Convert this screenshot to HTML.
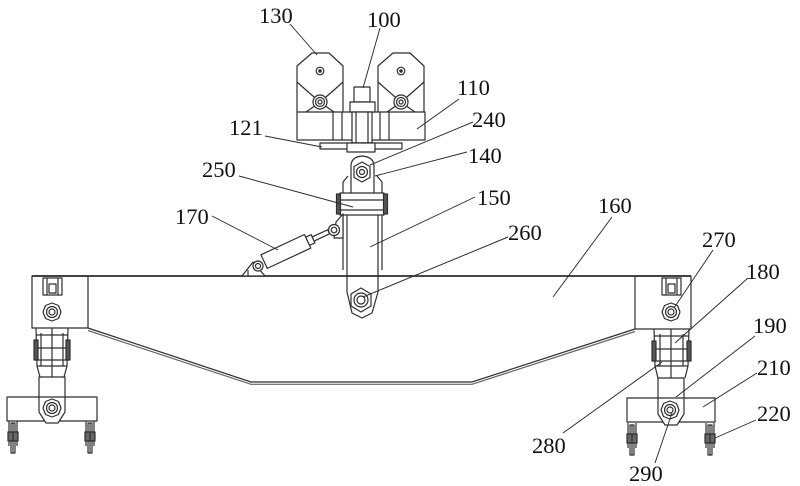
<!DOCTYPE html>
<html><head><meta charset="utf-8"><style>
html,body{margin:0;padding:0;background:#fff;}
svg{display:block;}
text{font-family:"Liberation Serif",serif;font-size:22.5px;fill:#111;}
</style></head><body>
<svg width="800" height="486" viewBox="0 0 800 486" xmlns="http://www.w3.org/2000/svg">
<g fill="none" stroke="#2e2e2e" stroke-width="1.2" stroke-linejoin="round">
<!-- Beam -->
<line x1="32" y1="276" x2="691" y2="276" stroke-width="1.8"/>
<rect x="32" y="276" width="56" height="52"/>
<rect x="635" y="276" width="56" height="53"/>
<polyline points="88,328 251,382 472,382 635,329"/>
<polyline points="88,330.5 251,384.3 472,384.3 635,331.5" stroke="#666"/>

<!-- End block details left -->
<rect x="43" y="278" width="19" height="17"/>
<line x1="47" y1="278" x2="47" y2="295"/><line x1="58" y1="278" x2="58" y2="295"/>
<rect x="49" y="284" width="7" height="9"/>
<polygon points="52,303 58.5,305.5 61,312 58.5,318.5 52,321 45.5,318.5 43,312 45.5,305.5"/>
<circle cx="52" cy="312" r="5.5"/><circle cx="52" cy="312" r="3"/>
<!-- End block details right -->
<rect x="662" y="278" width="19" height="17"/>
<line x1="666" y1="278" x2="666" y2="295"/><line x1="677" y1="278" x2="677" y2="295"/>
<rect x="668" y="284" width="7" height="9"/>
<polygon points="671,303 677.5,305.5 680,312 677.5,318.5 671,321 664.5,318.5 662,312 664.5,305.5"/>
<circle cx="671" cy="312" r="5.5"/><circle cx="671" cy="312" r="3"/>

<!-- Left leg -->
<polyline points="36,328 37,366 40,377"/><polyline points="68,328 67,366 64,377"/>
<line x1="41" y1="333" x2="41" y2="366"/><line x1="63" y1="333" x2="63" y2="366"/>
<line x1="36" y1="335" x2="68" y2="335"/><line x1="37" y1="348" x2="67" y2="348"/>
<line x1="37" y1="360" x2="67" y2="360"/><line x1="37" y1="366" x2="67" y2="366"/>
<line x1="52" y1="328" x2="52" y2="377"/>
<rect x="34" y="340" width="4" height="20" fill="#555"/><rect x="66" y="340" width="4" height="20" fill="#555"/>
<rect x="7" y="397" width="90" height="24" fill="#fff"/>
<polygon points="39,377 65,377 65,412 58,423 46,423 39,412" fill="#fff"/>
<line x1="39" y1="397" x2="65" y2="397"/>
<polygon points="52,399 58.5,401.5 61,408 58.5,414.5 52,417 45.5,414.5 43,408 45.5,401.5"/>
<circle cx="52" cy="408" r="5.5"/><circle cx="52" cy="408" r="3"/>

<!-- Right leg -->
<polyline points="654,329 655,366 658,378"/><polyline points="689,329 688,366 685,378"/>
<line x1="660" y1="334" x2="660" y2="366"/><line x1="683" y1="334" x2="683" y2="366"/>
<line x1="654" y1="336" x2="689" y2="336"/><line x1="655" y1="349" x2="688" y2="349"/>
<line x1="655" y1="361" x2="688" y2="361"/><line x1="655" y1="366" x2="688" y2="366"/>
<line x1="671" y1="329" x2="671" y2="378"/>
<rect x="652" y="341" width="4" height="20" fill="#555"/><rect x="687" y="341" width="4" height="20" fill="#555"/>
<rect x="627" y="398" width="88" height="24" fill="#fff"/>
<polygon points="658,378 684,378 684,414 677,425 665,425 658,414" fill="#fff"/>
<line x1="658" y1="398" x2="684" y2="398"/>
<polygon points="670,401 676.5,403.5 679,410 676.5,416.5 670,419 663.5,416.5 661,410 663.5,403.5"/>
<circle cx="670" cy="410" r="5.5"/><circle cx="670" cy="410" r="3"/>

<!-- Wheels -->
<g id="w">
<line x1="9" y1="421" x2="9" y2="446"/><line x1="17" y1="421" x2="17" y2="446"/>
<rect x="11" y="423" width="4" height="30"/>
<rect x="8" y="432" width="10" height="9" fill="#666"/>
<line x1="13" y1="423" x2="13" y2="453"/>
</g>
<use href="#w" x="77"/>
<use href="#w" x="619" y="2"/>
<use href="#w" x="697" y="2"/>

<!-- Trolley housings -->
<g id="h">
<polyline points="297,112 297,66 312,53 329,53 343,66 343,112"/>
<path d="M297,82 Q308,92 320,102 Q328,108 334,112"/>
<path d="M343,82 Q332,92 320,102 Q312,108 306,112"/>
<circle cx="320" cy="71" r="3.8"/><circle cx="320" cy="71" r="1.2" fill="#2e2e2e"/>
<circle cx="320" cy="102" r="7" fill="#fff"/><circle cx="320" cy="102" r="4.5"/><circle cx="320" cy="102" r="2"/>
</g>
<use href="#h" x="81"/>
<rect x="297" y="112" width="128" height="28" fill="#fff"/>
<line x1="333" y1="112" x2="333" y2="140"/><line x1="342" y1="112" x2="342" y2="140"/>
<line x1="380" y1="112" x2="380" y2="140"/><line x1="389" y1="112" x2="389" y2="140"/>
<!-- Bolt 100 -->
<rect x="354" y="87" width="16" height="15" fill="#fff"/>
<rect x="350" y="102" width="25" height="10" fill="#fff"/>
<rect x="352" y="112" width="20" height="31" fill="#fff"/>
<line x1="356" y1="112" x2="356" y2="143"/><line x1="368" y1="112" x2="368" y2="143"/>
<!-- Plate 121 -->
<rect x="320" y="143" width="82" height="6" fill="#fff"/>
<rect x="347" y="143" width="28" height="9" fill="#fff"/>

<!-- Plate 150 outer -->
<polyline points="343,270 343,182 348,176"/><polyline points="382,270 382,182 377,176"/>
<path d="M347,193 L347,292 L352,313 L362,318 L372,313 L378,292 L378,193"/>
<!-- Clevis 140 -->
<path d="M351,195 L351,166 Q351,157 362,156 Q374,157 374,166 L374,195"/>
<polygon points="362,162 370,166.5 370,177.5 362,182 354,177.5 354,166.5" fill="#fff"/>
<circle cx="362" cy="172" r="5.5"/><circle cx="362" cy="172" r="2.5"/>
<!-- Crossbar 250 -->
<rect x="340" y="193" width="44" height="22" fill="#fff"/>
<line x1="340" y1="200" x2="384" y2="200"/><line x1="340" y1="210" x2="384" y2="210"/>
<rect x="336.5" y="194" width="4" height="20" fill="#555"/><rect x="383.5" y="194" width="4" height="20" fill="#555"/>
<!-- Pin 260 -->
<polygon points="361,288 371,294 371,306 361,312 351,306 351,294"/>
<circle cx="361" cy="300" r="7"/><circle cx="361" cy="300" r="4"/>

<!-- Cylinder 170 -->
<polygon points="242,276 253,262 265,276" fill="#fff"/>
<line x1="248" y1="276" x2="248" y2="270"/>
<g transform="rotate(-25 258 265)">
<rect x="265" y="257" width="48" height="15" fill="#fff"/>
<rect x="313" y="260" width="6" height="9" fill="#fff"/>
<rect x="319" y="262.5" width="17" height="4.5" fill="#fff"/>
</g>
<circle cx="258" cy="266" r="5" fill="#fff"/><circle cx="258" cy="266" r="2.5"/>
<polygon points="336,222 343,214 343,238 334,238" fill="#fff"/>
<circle cx="334" cy="230" r="5.5" fill="#fff"/><circle cx="334" cy="230" r="2.8"/>
</g>

<!-- Leader lines -->
<g stroke="#2a2a2a" stroke-width="0.95" fill="none">
<line x1="290" y1="24" x2="317" y2="55"/>
<line x1="380" y1="28" x2="363" y2="88"/>
<line x1="459" y1="99" x2="417" y2="129"/>
<line x1="473" y1="122" x2="370" y2="165"/>
<line x1="467" y1="152" x2="375" y2="176"/>
<line x1="265" y1="136" x2="322" y2="147"/>
<line x1="239" y1="176" x2="353" y2="207"/>
<line x1="212" y1="216" x2="278" y2="250"/>
<line x1="475" y1="197" x2="370" y2="247"/>
<line x1="508" y1="237" x2="363" y2="297"/>
<line x1="612" y1="217" x2="553" y2="297"/>
<line x1="713" y1="250" x2="674" y2="308"/>
<line x1="748" y1="278" x2="675" y2="343"/>
<line x1="755" y1="336" x2="676" y2="397"/>
<line x1="757" y1="373" x2="703" y2="407"/>
<line x1="756" y1="420" x2="715" y2="438"/>
<line x1="563" y1="433" x2="662" y2="362"/>
<line x1="655" y1="463" x2="672" y2="413"/>
</g>

<!-- Labels -->
<text x="259" y="23">130</text>
<text x="367" y="27">100</text>
<text x="457" y="95">110</text>
<text x="472" y="127">240</text>
<text x="468" y="163">140</text>
<text x="229" y="135">121</text>
<text x="202" y="177">250</text>
<text x="175" y="224">170</text>
<text x="477" y="205">150</text>
<text x="508" y="240">260</text>
<text x="598" y="213">160</text>
<text x="702" y="247">270</text>
<text x="746" y="279">180</text>
<text x="753" y="333">190</text>
<text x="757" y="375">210</text>
<text x="757" y="421">220</text>
<text x="532" y="453">280</text>
<text x="629" y="481">290</text>
</svg>
</body></html>
